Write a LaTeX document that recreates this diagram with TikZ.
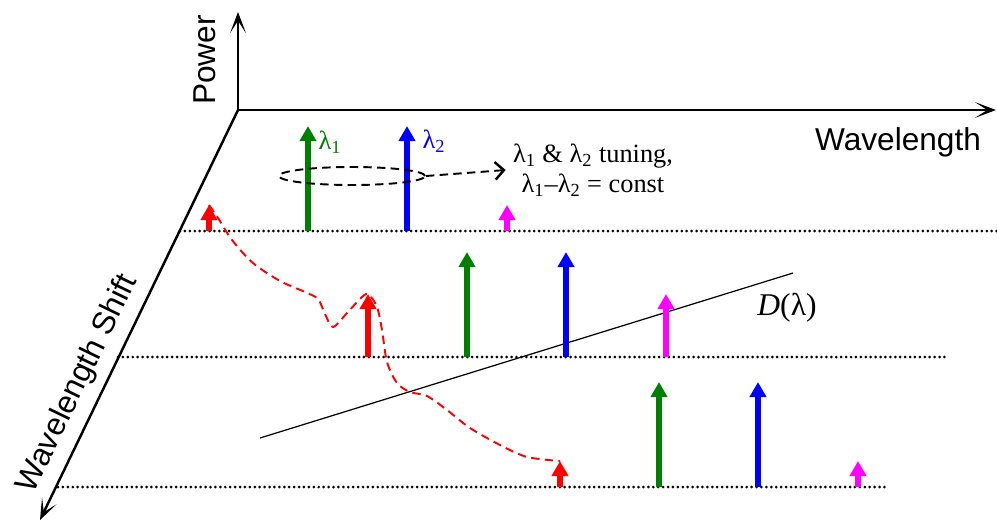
\documentclass[tikz,border=0pt]{standalone}
\usepackage{fontspec}
\setmainfont{Liberation Serif}
\setsansfont{Liberation Sans}
\usepackage{tikz}
\usetikzlibrary{arrows.meta,shapes.geometric,positioning}
\definecolor{lgreen}{RGB}{0,128,0}
\definecolor{lmagenta}{RGB}{255,0,255}

\begin{document}
\begin{tikzpicture}[
    x=0.02cm, y=-0.02cm,
    axis/.style={line width=1.4pt, -{Stealth[length=12pt, width=9pt, inset=7pt]}},
    axlabel/.style={font=\sffamily\fontsize{18}{21}\selectfont},
    level/.style={line width=1.7pt, line cap=round, dash pattern=on 0pt off 2.8pt},
    spike/.style={line width=3.2pt, -{Triangle[length=0.3cm, width=0.32cm]}},
    tune/.style={line width=1.1pt, dash pattern=on 4.8pt off 3pt},
    lab/.style={font=\fontsize{15}{17}\selectfont, inner sep=1pt}
]
    \useasboundingbox (0,0) rectangle (997,522);

    % axes
    \coordinate (o) at (238,110);
    \coordinate (py) at (238,12);
    \coordinate (px) at (996,110);
    \coordinate (pz) at (40,520);
    \draw[axis] (o) -- (py);
    \draw[axis] (o) -- (px);
    \draw[axis] (o) -- (pz);
    \node[axlabel, rotate=90] (pw) at (205,60) {Power};
    \node[axlabel] (wl) at (898,142) {Wavelength};
    \node[axlabel, rotate=64.2] (ws) at (78,384) {Wavelength Shift};

    % levels
    \foreach \r/\y/\x/\h/\xs/\xe in {1/231/209/26/180/997, 2/357/368/63/118/945, 3/487/560/26/58/885}{
        \coordinate (s\r) at (\xs,\y);
        \coordinate (e\r) at (\xe,\y);
        \coordinate (rt\r) at (\x,{\y-\h});
        \draw[level] (s\r) -- (e\r);
    }

    % dispersion line
    \coordinate (d1) at (260,438);
    \coordinate (d2) at (793,273);
    \draw[line width=0.7pt] (d1) -- (d2);
    \node[font=\fontsize{18}{21}\selectfont] (dl) at (787,308) {\textit{D}(λ)};

    % idler track
    \draw[tune, red] plot[smooth, tension=0.5] coordinates {(rt1) (218,218) (232,240) (253,263) (280,281) (305,292) (318,299) (325,314) (333,327) (347,313) (360,299) (rt2) (377,307) (382,330) (387,362) (397,383) (410,392) (427,396) (447,410) (470,428) (500,445) (527,457) (rt3)};

    % spectral lines
    \foreach \r/\y/\x/\h in {1/231/209/26, 2/357/368/63, 3/487/560/26}{
        \foreach \c/\dx/\hh in {red/0/\h, lgreen/99/105, blue/198/105, lmagenta/298/\h}{
            \coordinate (b\r\dx) at ({\x+\dx},\y);
            \coordinate (t\r\dx) at ({\x+\dx},{\y-\hh});
            \draw[spike, \c] (b\r\dx) -- (t\r\dx);
        }
    }
    \node[lab, text=lgreen] (l1) at (330,142) {λ\textsubscript{1}};
    \node[lab, text=blue] (l2) at (434,141) {λ\textsubscript{2}};

    % tuning
    \node[ellipse, draw, tune, minimum width=2.92cm, minimum height=0.36cm, inner sep=0pt] (loop) at (352,176) {};
    \node[lab, align=center, inner sep=4pt] (tn) at (593,170) {λ\textsubscript{1} \& λ\textsubscript{2} tuning,\\ λ\textsubscript{1}--λ\textsubscript{2} = const};
    \draw[tune, -{Straight Barb[length=5pt, width=10pt, line width=1.4pt]}] (loop.east) -- (tn.west);
\end{tikzpicture}
\end{document}
